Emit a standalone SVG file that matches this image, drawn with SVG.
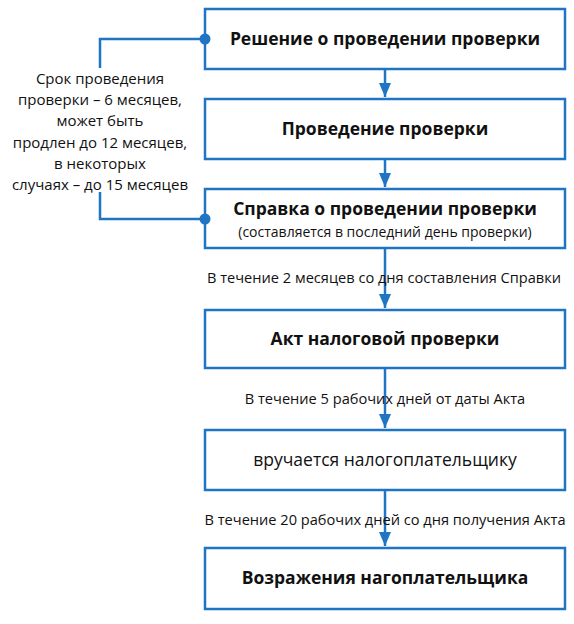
<svg xmlns="http://www.w3.org/2000/svg" width="574" height="624" viewBox="0 0 574 624">
<defs>
<marker id="arr" markerWidth="14" markerHeight="12" refX="14" refY="6" orient="auto" markerUnits="userSpaceOnUse">
<path d="M0,0 L14,6 L0,12 Z" fill="#1f74c4"/>
</marker>
<style>
.box{fill:#fff;stroke:#1f74c4;stroke-width:2.5}
.ln{fill:none;stroke:#1f74c4;stroke-width:2.5}
.t{font-family:"Open Sans","Liberation Sans",sans-serif;fill:#111;text-anchor:middle}
.b{font-size:17.5px;font-weight:bold}
.r{font-size:15px}
.s{font-size:14px}
.l{font-size:14.6px}
</style>
</defs>
<rect width="574" height="624" fill="#fff"/>
<g id="n1"><rect class="box" x="205" y="9" width="360" height="60"/><text class="t b" x="385" y="45">Решение о проведении проверки</text></g>
<g id="n2"><rect class="box" x="205" y="99" width="360" height="60"/><text class="t b" x="385" y="135">Проведение проверки</text></g>
<g id="n3"><rect class="box" x="205" y="189" width="360" height="59"/><text class="t b" x="385" y="215">Справка о проведении проверки</text><text class="t s" x="385" y="237">(составляется в последний день проверки)</text></g>
<g id="n4"><rect class="box" x="205" y="310" width="360" height="58"/><text class="t b" x="385" y="345">Акт налоговой проверки</text></g>
<g id="n5"><rect class="box" x="205" y="430" width="360" height="60"/><text class="t" x="385" y="466" style="font-size:17.5px">вручается налогоплательщику</text></g>
<g id="n6"><rect class="box" x="205" y="548" width="360" height="61"/><text class="t b" x="385" y="584">Возражения нагоплательщика</text></g>
<g id="connectors">
<path class="ln" d="M385,70 V97" marker-end="url(#arr)"/>
<path class="ln" d="M385,160 V187" marker-end="url(#arr)"/>
<path class="ln" d="M385,249 V308" marker-end="url(#arr)"/>
<path class="ln" d="M385,369 V428" marker-end="url(#arr)"/>
<path class="ln" d="M385,491 V546" marker-end="url(#arr)"/>
<path class="ln" d="M100,68 V39 H205"/>
<path class="ln" d="M100,192 V219 H205"/>
<circle cx="205" cy="39" r="5.5" fill="#1f74c4"/>
<circle cx="205" cy="219" r="5.5" fill="#1f74c4"/>
</g>
<g id="labels">
<text class="t l" x="384" y="283">В течение 2 месяцев со дня составления Справки</text>
<text class="t l" x="385" y="404">В течение 5 рабочих дней от даты Акта</text>
<text class="t l" x="385" y="525">В течение 20 рабочих дней со дня получения Акта</text>
</g>
<g id="note">
<text class="t r" x="100" y="84">Срок проведения</text>
<text class="t r" x="100" y="105">проверки – 6 месяцев,</text>
<text class="t r" x="100" y="126">может быть</text>
<text class="t r" x="100" y="148">продлен до 12 месяцев,</text>
<text class="t r" x="100" y="169">в некоторых</text>
<text class="t r" x="100" y="190">случаях – до 15 месяцев</text>
</g>
</svg>
